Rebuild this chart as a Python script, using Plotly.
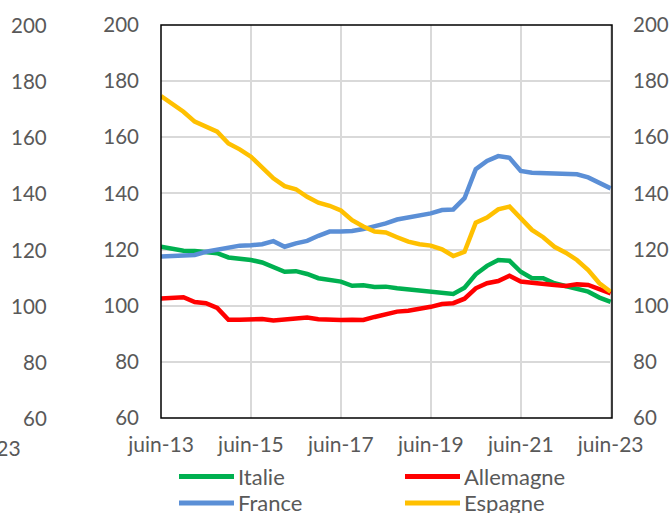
import plotly.graph_objects as go

months = ["juin", "sept", "déc", "mars"]
quarters = []
for k in range(41):
    m = months[k % 4]
    yr = 13 + (k + 2) // 4
    quarters.append(f"{m}-{yr:02d}")

tick_labels = ["juin-13", "juin-15", "juin-17", "juin-19", "juin-21", "juin-23"]
y_ticks = [60, 80, 100, 120, 140, 160, 180, 200]

italie = [121.0, 120.2, 119.6, 119.5, 118.9, 118.7, 117.2, 116.9, 116.3, 115.4,
          113.9, 112.1, 112.3, 111.3, 109.8, 109.4, 108.6, 107.1, 107.3, 106.7,
          106.8, 106.2, 105.8, 105.0, 105.0, 104.6, 104.2, 106.4, 111.2, 114.2,
          116.3, 116.0, 112.1, 109.8, 109.8, 108.0, 107.1, 106.2, 105.0, 102.9, 101.4]
allemagne = [102.6, 102.8, 103.0, 101.3, 100.9, 99.2, 95.0, 95.0, 95.2, 95.3,
             94.7, 95.2, 95.3, 95.8, 95.2, 94.9, 94.9, 95.0, 94.9, 96.0,
             97.0, 97.9, 98.2, 98.8, 99.6, 100.6, 100.9, 102.5, 106.2, 108.0,
             108.8, 110.7, 108.6, 108.2, 108.0, 107.4, 107.0, 107.6, 107.4, 105.8, 104.4]
france = [117.5, 117.8, 117.9, 118.1, 119.2, 119.9, 120.7, 121.4, 121.5, 121.9,
          123.0, 121.0, 122.2, 123.1, 124.9, 126.4, 126.4, 126.6, 127.3, 128.2,
          129.3, 130.7, 131.5, 132.0, 132.9, 134.1, 134.3, 138.3, 148.6, 151.6,
          153.3, 152.7, 148.0, 147.4, 147.2, 146.9, 146.6, 146.8, 145.7, 143.8, 141.8]
espagne = [174.7, 172.1, 169.1, 165.6, 164.0, 162.0, 157.8, 155.7, 153.1, 149.0,
           145.4, 142.6, 141.5, 138.8, 136.7, 135.6, 133.9, 130.5, 128.2, 126.4,
           126.1, 124.4, 122.8, 121.9, 121.4, 120.1, 117.7, 119.2, 129.6, 131.4,
           134.3, 135.3, 131.1, 127.0, 124.4, 121.0, 118.9, 116.3, 112.7, 108.0, 105.0]

series = [("Italie", italie, "#00B050"), ("Allemagne", allemagne, "#FF0000"),
          ("France", france, "#5B8FD6"), ("Espagne", espagne, "#FFC000")]

FONT = "Lato"
GREY = "#595959"
FS = 21           # x tick labels
FSY = 20.5        # y tick labels
FSL = 22          # legend
W, H = 671, 513
# plot box in page pixels: x 161..612, y 25..418
L, T = 161, 25
R, B = W - 612, H - 418
PW, PH = W - L - R, H - T - B

def px(x):  # page pixel -> paper x
    return (x - L) / PW

def py(y):  # page pixel -> paper y
    return (418 - y) / PH

fig = go.Figure()
for name, vals, col in series:
    fig.add_trace(go.Scatter(x=quarters, y=vals, mode="lines", name=name,
                             line=dict(color=col, width=4.5, shape="linear"),
                             showlegend=False))
# invisible trace for the right axis
fig.add_trace(go.Scatter(x=quarters[:1], y=[None], yaxis="y2", showlegend=False,
                         hoverinfo="skip"))

fig.update_layout(
    width=W, height=H,
    margin=dict(l=L, r=R, t=T, b=B, autoexpand=False),
    paper_bgcolor="white", plot_bgcolor="white",
    font=dict(family=FONT, size=FS, color=GREY),
    xaxis=dict(type="category", range=[0, 40.12], tickvals=tick_labels,
               ticktext=tick_labels, showgrid=True, gridcolor="#D9D9D9",
               gridwidth=1.5, ticks="", zeroline=False, showline=False,
               automargin=False, ticklabelstandoff=12,
               tickfont=dict(size=FS, color=GREY)),
    yaxis=dict(range=[60, 200], tickvals=y_ticks, showgrid=True,
               gridcolor="#D9D9D9", gridwidth=1.5, ticks="", zeroline=False,
               showline=False, automargin=False, ticklabelstandoff=21,
               tickfont=dict(size=FSY, color=GREY)),
    yaxis2=dict(range=[60, 200], tickvals=y_ticks, overlaying="y", side="right",
                showgrid=False, ticks="", zeroline=False, showline=False,
                automargin=False, ticklabelstandoff=20,
                tickfont=dict(size=FSY, color=GREY)),
)

# plot frame
fig.add_shape(type="rect", xref="paper", yref="paper", x0=0, x1=1, y0=0, y1=1,
              line=dict(color="black", width=1.5), layer="above")

# neighbouring chart's axis labels (cropped)
for v in y_ticks:
    fig.add_annotation(x=px(49), y=v, xref="paper", yref="y", text=str(v),
                       showarrow=False, xanchor="right", yanchor="middle",
                       font=dict(size=FSY, color=GREY, family=FONT))
fig.add_annotation(x=px(23), y=py(447), xref="paper", yref="paper", text="juin-23",
                   showarrow=False, xanchor="right", yanchor="middle",
                   font=dict(size=FS, color=GREY, family=FONT))

# legend drawn manually
legend_pos = [("Italie", "#00B050", 179, 476.5), ("Allemagne", "#FF0000", 405, 476.5),
              ("France", "#5B8FD6", 179, 503), ("Espagne", "#FFC000", 405, 503)]
for name, col, x0, yy in legend_pos:
    fig.add_shape(type="line", xref="paper", yref="paper", x0=px(x0), x1=px(x0 + 55),
                  y0=py(yy), y1=py(yy), line=dict(color=col, width=5))
    fig.add_annotation(x=px(x0 + 57), y=py(yy), xref="paper", yref="paper", text=name,
                       showarrow=False, xanchor="left", yanchor="middle",
                       font=dict(size=FSL, color=GREY, family=FONT))

fig.write_html("out.html",
               config={"displayModeBar": False},
               post_script="document.body.style.margin='0';document.body.style.overflow='hidden';")
